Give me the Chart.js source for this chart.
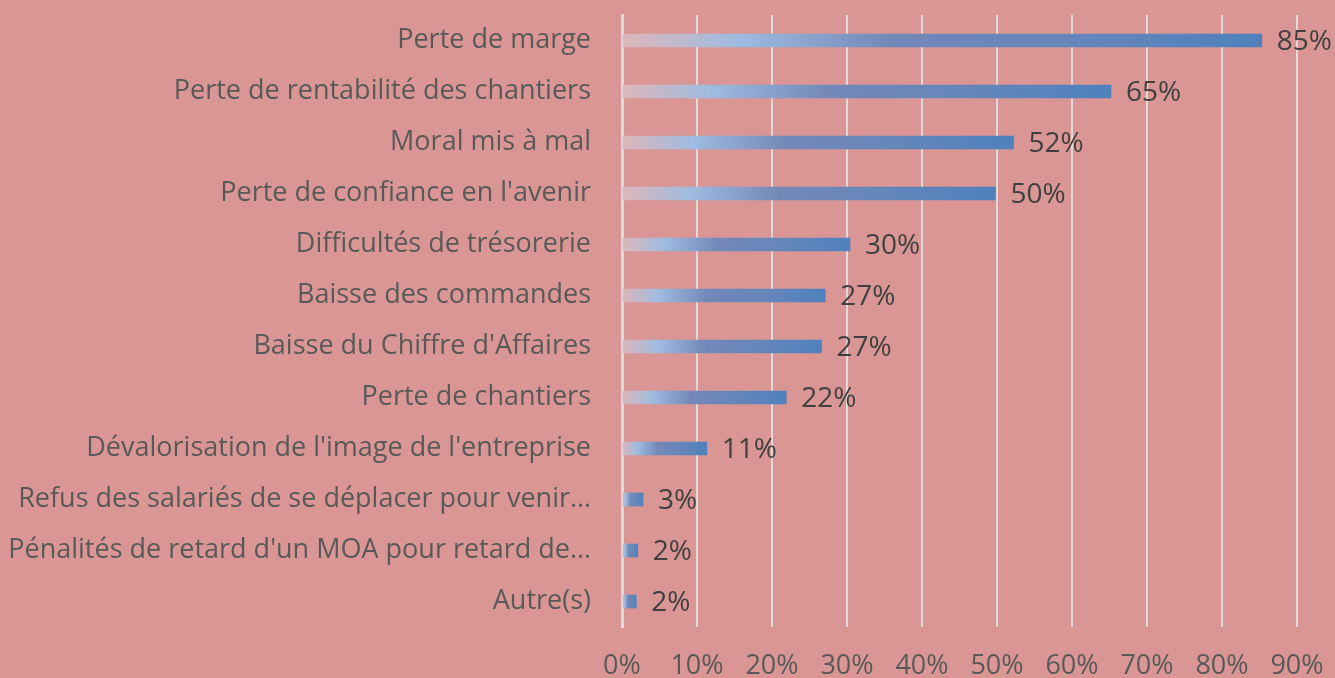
<!DOCTYPE html>
<html>
<head>
<meta charset="utf-8">
<script src="https://cdn.jsdelivr.net/npm/chart.js@4"></script>
<style>
  html, body { margin: 0; padding: 0; background: #DA9694; }
  canvas { display: block; }
</style>
</head>
<body>
<canvas id="impactChart" width="1335" height="678"></canvas>
<script>
// Data
const categories = [
    'Perte de marge',
    'Perte de rentabilité des chantiers',
    'Moral mis à mal',
    "Perte de confiance en l'avenir",
    'Difficultés de trésorerie',
    'Baisse des commandes',
    "Baisse du Chiffre d'Affaires",
    'Perte de chantiers',
    "Dévalorisation de l'image de l'entreprise",
    'Refus des salariés de se déplacer pour venir…',
    "Pénalités de retard d'un MOA pour retard de…",
    'Autre(s)'
];
const percentages = [85.3, 65.2, 52.2, 49.8, 30.4, 27.1, 26.6, 21.9, 11.3, 2.8, 2.1, 1.9];
const valueLabels = ['85%', '65%', '52%', '50%', '30%', '27%', '27%', '22%', '11%', '3%', '2%', '2%'];
const axisMax = 90;
const axisStep = 10;

const FONT = "'Open Sans', sans-serif";

// Each bar gets its own gradient, from its base to its end
function barGradient(context) {
    const chart = context.chart;
    const xScale = chart.scales.x;
    if (!xScale || !chart.chartArea) return '#4F81BD';
    const x0 = xScale.getPixelForValue(0);
    const x1 = xScale.getPixelForValue(context.raw);
    if (!isFinite(x0) || !isFinite(x1) || x1 - x0 < 1) return '#4F81BD';
    const g = chart.ctx.createLinearGradient(x0, 0, x1, 0);
    g.addColorStop(0, '#DEB6B9');
    g.addColorStop(0.18, '#9FBCE0');
    g.addColorStop(0.42, '#7388B8');
    g.addColorStop(0.7, '#6586BA');
    g.addColorStop(1, '#4F81BD');
    return g;
}

// Value labels at the end of each bar
const endLabels = {
    id: 'endLabels',
    afterDatasetsDraw(chart) {
        const ctx = chart.ctx;
        const meta = chart.getDatasetMeta(0);
        ctx.save();
        ctx.font = '28px ' + FONT;
        ctx.fillStyle = '#404040';
        ctx.textAlign = 'left';
        ctx.textBaseline = 'middle';
        meta.data.forEach((bar, i) => {
            ctx.fillText(valueLabels[i], bar.x + 15, bar.y + 2);
        });
        ctx.restore();
    }
};

const ctx = document.getElementById('impactChart').getContext('2d');
new Chart(ctx, {
    type: 'bar',
    data: {
        labels: categories,
        datasets: [{
            data: percentages,
            backgroundColor: barGradient,
            borderWidth: 0,
            barThickness: 13
        }]
    },
    options: {
        indexAxis: 'y',
        responsive: false,
        animation: false,
        layout: { padding: { top: 15, right: 38, bottom: 0, left: 0 } },
        plugins: {
            legend: { display: false },
            tooltip: { enabled: false }
        },
        scales: {
            x: {
                min: 0,
                max: axisMax,
                ticks: {
                    stepSize: axisStep,
                    padding: 23,
                    color: '#595959',
                    font: { family: FONT, size: 27 },
                    callback: v => v + '%'
                },
                grid: {
                    color: 'rgba(228,228,228,0.85)',
                    lineWidth: 2,
                    drawTicks: false
                },
                border: { display: false },
                afterFit: scale => {
                    scale.height = 51;
                    scale.paddingLeft = 0;
                    scale.paddingRight = 0;
                }
            },
            y: {
                ticks: {
                    padding: 23,
                    color: '#595959',
                    font: { family: FONT, size: 27 }
                },
                grid: { display: false },
                border: { color: '#DCDCDC', width: 3 },
                afterFit: scale => {
                    scale.width = 622;
                    scale.paddingTop = 0;
                    scale.paddingBottom = 0;
                }
            }
        }
    },
    plugins: [endLabels]
});
</script>
</body>
</html>
